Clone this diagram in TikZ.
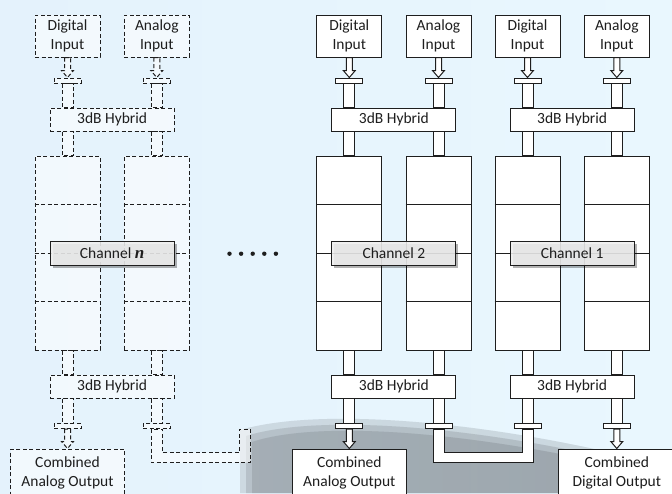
\documentclass[tikz,border=0pt]{standalone}
\usepackage{fontspec}
\setmainfont{Carlito}
\newfontfamily\varfont{Liberation Serif}
\usetikzlibrary{calc,shadows}
\definecolor{bgblue}{RGB}{228,242,252}
\definecolor{bgblueright}{RGB}{233,247,254}
\definecolor{swoosh}{RGB}{168,178,194}
\definecolor{inkline}{RGB}{30,30,30}
\definecolor{labelgray}{RGB}{238,238,238}
\tikzset{every picture/.style={line width=1pt}}
\tikzset{
  txt/.style={font=\fontsize{15.5}{19}\selectfont, text=inkline},
  inbox/.style={draw=inkline, fill=white, txt, align=center, inner sep=0pt,
    minimum width=65pt, minimum height=42pt},
  outbox/.style={inbox, minimum width=114pt, minimum height=48pt},
  hybrid/.style={draw=inkline, fill=white, txt, inner sep=0pt,
    minimum width=124pt, minimum height=23pt},
  flange/.style={draw=inkline, fill=white, inner sep=0pt,
    minimum width=27pt, minimum height=5pt},
  chcol/.style={draw=inkline, fill=white, inner sep=0pt,
    minimum width=65pt, minimum height=194pt},
  chlabel/.style={draw=inkline, fill=labelgray, fill opacity=0.88, text opacity=1, txt,
    inner sep=0pt, minimum width=124pt, minimum height=24pt,
    drop shadow={shadow xshift=2.5pt, shadow yshift=-2.5pt, fill=black, opacity=0.3}},
  wg/.style={draw=inkline, fill=white},
  solidline/.style={},
  ghost/.style={dash pattern=on 4pt off 2.5pt, fill opacity=0.55, text opacity=1},
}
% open feed arrow: #2 = tail anchor, #3 = tip anchor
\newcommand{\feedarrow}[3][]{%
  \draw[wg,#1] ($(#2)+(-3,0)$) -- ($(#3)+(-3,-7)$) -- ($(#3)+(-6,-7)$) -- (#3)
    -- ($(#3)+(6,-7)$) -- ($(#3)+(3,-7)$) -- ($(#2)+(3,0)$) -- cycle;}
% one channel: name, left x, right x, line style, label
\newcommand{\channelpair}[5]{%
  %Inputs
  \node[inbox,#4] (#1-din) at (#2,36) {Digital\\Input};
  \node[inbox,#4] (#1-ain) at (#3,36) {Analog\\Input};
  %Hybrids and flanges
  \node[flange,#4] (#1-fa) at (#2,80.5) {};
  \node[flange,#4] (#1-fb) at (#3,80.5) {};
  \node[hybrid,#4] (#1-hin) at ({(#2+#3)/2},119.5) {3dB Hybrid};
  \node[chcol,#4] (#1-ca) at (#2,253) {};
  \node[chcol,#4] (#1-cb) at (#3,253) {};
  \node[hybrid,#4] (#1-hout) at ({(#2+#3)/2},386.5) {3dB Hybrid};
  \node[flange,#4] (#1-ga) at (#2,426) {};
  \node[flange,#4] (#1-gb) at (#3,426) {};
  %Filter cavities
  \foreach \s in {a,b}{
    \foreach \f in {0.25,0.5,0.75}
      \draw[draw=inkline,#4] ($(#1-c\s.north west)!\f!(#1-c\s.south west)$) -- ($(#1-c\s.north east)!\f!(#1-c\s.south east)$);
    %Waveguide runs
    \draw[wg,#4] ($(#1-f\s.south)+(-5.5,0)$) rectangle ($(#1-hin.north -| #1-f\s)+(5.5,0)$);
    \draw[wg,#4] ($(#1-hin.south -| #1-f\s)+(-5.5,0)$) rectangle ($(#1-c\s.north)+(5.5,0)$);
    \draw[wg,#4] ($(#1-c\s.south)+(-5.5,0)$) rectangle ($(#1-hout.north -| #1-g\s)+(5.5,0)$);
    \draw[wg,#4] ($(#1-hout.south -| #1-g\s)+(-5.5,0)$) rectangle ($(#1-g\s.north)+(5.5,0)$);
  }
  \feedarrow[#4]{#1-din.south}{#1-fa.north}
  \feedarrow[#4]{#1-ain.south}{#1-fb.north}
  \node[chlabel] (#1-label) at ({(#2+#3)/2},253) {#5};
}

\begin{document}
\begin{tikzpicture}[x=1pt,y=1pt,yscale=-1,xscale=1]
\useasboundingbox (0,0) rectangle (672,493);

%Background
\shade[left color=bgblue, right color=bgblueright] (0,0) rectangle (672,493);
\foreach \d/\o in {0/0.12,6/0.14,12/0.16}
  \fill[left color=bgblue, middle color=swoosh, right color=swoosh!50!bgblue, opacity=\o]
    (240+\d,430+\d) .. controls (330,404+\d) and (520,426+\d) .. (672,468+\d) -- (672,493) -- (240+\d,493) -- cycle;

%Channels
\channelpair{chn}{67.5}{156.8}{ghost}{Channel {\varfont\bfseries\itshape\fontsize{17}{19}\selectfont n}}
\channelpair{chtwo}{349.3}{438.5}{solidline}{Channel 2}
\channelpair{chone}{527.5}{616.8}{solidline}{Channel 1}

%Outputs
\node[outbox,ghost] (nout) at (67.5,473) {Combined\\Analog Output};
\node[outbox] (aout) at (349.3,473) {Combined\\Analog Output};
\node[outbox, minimum width=116pt] (dout) at (616.8,473) {Combined\\Digital Output};
\feedarrow[ghost]{chn-ga.south}{nout.north}
\feedarrow{chtwo-ga.south}{aout.north}
\feedarrow{chone-gb.south}{dout.north}

%Waveguide U-bends between channels
\coordinate (chn-stub) at (245,429);
\draw[wg,ghost] ($(chn-gb.south)+(-5.5,0)$) |- ($(chn-stub)+(5.5,33.5)$) -- ($(chn-stub)+(5.5,0)$)
  -- ($(chn-stub)+(-5.5,0)$) |- ($(chn-gb.south)+(5.5,23.5)$) -- ($(chn-gb.south)+(5.5,0)$) -- cycle;
\draw[wg] ($(chtwo-gb.south)+(-5.5,0)$) |- ($(chone-ga.south)+(5.5,33.5)$) -- ($(chone-ga.south)+(5.5,0)$)
  -- ($(chone-ga.south)+(-5.5,0)$) |- ($(chtwo-gb.south)+(5.5,23.5)$) -- ($(chtwo-gb.south)+(5.5,0)$) -- cycle;

%Dots
\foreach \i in {0,...,4}
  \fill[inkline] (229.5+11.6*\i,253.7) circle (2.2);
\end{tikzpicture}
\end{document}
